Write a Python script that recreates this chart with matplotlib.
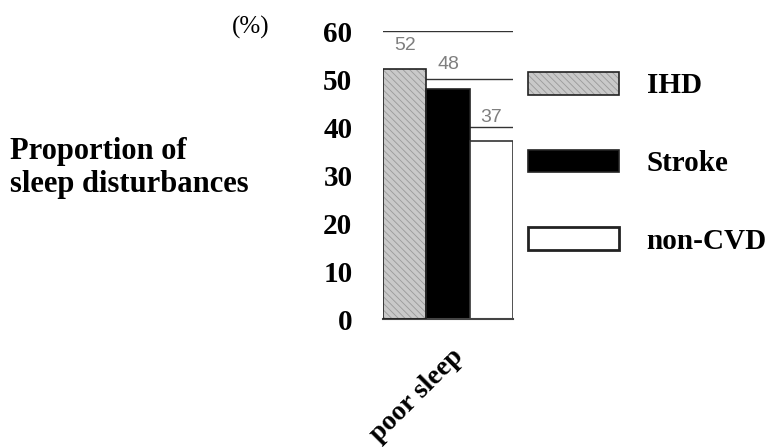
import matplotlib
matplotlib.use('Agg')
import matplotlib.pyplot as plt
import matplotlib.transforms as mtransforms
from matplotlib.patches import Patch

# data
groups = ['IHD', 'Stroke', 'non-CVD']
values = [52, 48, 37]
category = 'poor sleep'
yticks = [0, 10, 20, 30, 40, 50, 60]

plt.rcParams['font.family'] = ['Liberation Serif', 'DejaVu Serif']
plt.rcParams['hatch.linewidth'] = 0.6

fig = plt.figure(figsize=(7.77, 4.47), dpi=100)
ax = fig.add_axes([383 / 777, 128 / 447, 130 / 777, 288 / 447])

x = list(range(len(groups)))
# ihd: hatched fill + separate outline so the hatch can stay grey
ihd_fill = ax.bar(x[0], values[0], width=1.0, color='#c9c9c9', edgecolor='#9a9a9a',
                  hatch='\\\\\\\\\\', linewidth=0, zorder=2)
ihd_edge = ax.bar(x[0], values[0], width=1.0, facecolor='none', edgecolor='#222222',
                  linewidth=1.2, zorder=3)
ax.bar(x[1], values[1], width=1.0, color='black', edgecolor='#222222', linewidth=1.2, zorder=2)
ax.bar(x[2], values[2], width=1.0, color='white', edgecolor='#333333', linewidth=1.2, zorder=2)

for xi, v in zip(x, values):
    ax.annotate(str(v), (xi, v), xytext=(0, 11), textcoords='offset points',
                ha='center', va='bottom', color='#7f7f7f', fontsize=14,
                family='Liberation Sans')

ax.set_xlim(-0.5, 2.5)
ax.set_ylim(0, 60)
ax.set_yticks(yticks)
ax.set_yticklabels([str(t) for t in yticks], fontsize=21, fontweight='bold')
ax.tick_params(axis='y', length=0, pad=22)
ax.yaxis.grid(True, color='#333333', linewidth=1.0, zorder=0)
ax.set_axisbelow(True)
for s in ['left', 'top', 'right']:
    ax.spines[s].set_visible(False)
ax.spines['bottom'].set_color('#444444')
ax.spines['bottom'].set_linewidth(1.5)

ax.set_xticks([1])
ax.set_xticklabels([category], fontsize=20, fontweight='bold', rotation=45,
                   ha='right', rotation_mode='anchor')
ax.tick_params(axis='x', length=0, pad=18)
for lab in ax.get_xticklabels():
    lab.set_transform(lab.get_transform() +
                      mtransforms.ScaledTranslation(0.03, 0, fig.dpi_scale_trans))

fig.text(232 / 777, 1 - 27 / 447, '(%)', fontsize=18, va='center', ha='left')
fig.text(10 / 777, 1 - 168 / 447, 'Proportion of\nsleep disturbances', fontsize=22,
         fontweight='bold', va='center', ha='left', linespacing=1.22)

handles = [(ihd_fill, ihd_edge),
           Patch(facecolor='black', edgecolor='#222222', linewidth=1.2),
           Patch(facecolor='white', edgecolor='#222222', linewidth=2)]
fs = 21
ax.legend(handles, groups, loc='upper left', bbox_to_anchor=(528 / 777, 1 - 72 / 447),
          bbox_transform=fig.transFigure, frameon=False, borderpad=0, borderaxespad=0,
          handlelength=91 / (fs * 100 / 72), handleheight=24 / (fs * 100 / 72),
          handletextpad=0.95, labelspacing=1.72,
          prop={'size': fs, 'weight': 'bold', 'family': 'Liberation Serif'})

fig.savefig('out.png', dpi=100)
